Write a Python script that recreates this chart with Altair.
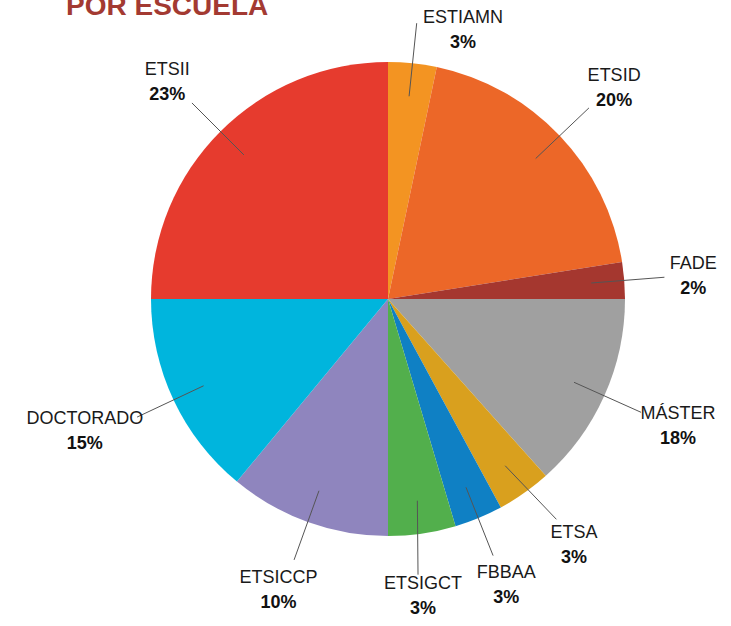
import math
import altair as alt
import pandas as pd

# ---- data ----
names = ["ESTIAMN", "ETSID", "FADE", "MÁSTER", "ETSA", "FBBAA",
         "ETSIGCT", "ETSICCP", "DOCTORADO", "ETSII"]
# slice sizes as drawn (share of the full circle, %)
shares = [3.3, 19.2, 2.5, 13.4, 3.7, 3.3, 4.6, 11.0, 14.0, 25.0]
# percentages printed on the labels
pct_labels = ["3%", "20%", "2%", "18%", "3%", "3%", "3%", "10%", "15%", "23%"]
colors = ["#F39422", "#EC6728", "#A5372F", "#A0A0A0", "#D9A01E",
          "#0F80C4", "#52AF4C", "#8F85BE", "#00B5DD", "#E63B2E"]
title_text = ["POR ESCUELA"]

# ---- layout ----
W, H = 686, 598          # plot area; pie is centred in it
PAD_B = 28
R = 237                  # pie radius (px)
R_IN, R_OUT = 0.86 * R, 1.17 * R
CH = 19                  # half height of a two-line label block
FS = 18

total = sum(shares)
mids, acc = [], 0.0
for s in shares:
    mids.append((acc + s / 2) / total * 2 * math.pi)
    acc += s
widths = [len(n) * 11.5 for n in names]


def block(phi, w):
    ex, ey = R_OUT * math.sin(phi), R_OUT * math.cos(phi)
    bx = ex + math.sin(phi) * (w / 2 + 6)
    by = ey + math.cos(phi) * (CH + 12)
    top_lim = H / 2 - CH - 10
    bot_lim = -(H / 2 + PAD_B) + CH + 12
    if by > top_lim:
        by = top_lim
        bx = ex + math.copysign(w / 2 + 6, math.sin(phi))
    if by < bot_lim:
        by = bot_lim
    return ex, ey, bx, by


# spread label angles apart where label blocks would collide
phis = mids[:]
n = len(names)
for _ in range(800):
    moved = False
    for i in range(n):
        j = (i + 1) % n
        _, _, bxi, byi = block(phis[i], widths[i])
        _, _, bxj, byj = block(phis[j], widths[j])
        if abs(bxi - bxj) < (widths[i] + widths[j]) / 2 + 14 and abs(byi - byj) < 2 * CH + 8:
            phis[i] -= 0.004
            phis[j] += 0.004
            moved = True
    if not moved:
        break

rows = []
for i, nm in enumerate(names):
    ex, ey, bx, by = block(phis[i], widths[i])
    rows.append({
        "idx": i, "name": nm, "share": shares[i], "pct": pct_labels[i],
        "x_in": R_IN * math.sin(mids[i]), "y_in": R_IN * math.cos(mids[i]),
        "x_out": ex, "y_out": ey, "bx": bx, "by": by,
    })
df = pd.DataFrame(rows)

xs = alt.Scale(domain=[-W / 2, W / 2], nice=False, zero=False)
ys = alt.Scale(domain=[-H / 2, H / 2], nice=False, zero=False)

base = alt.Chart(df)

pie = base.mark_arc(radius=R).encode(
    theta=alt.Theta("share:Q", stack=True),
    color=alt.Color("name:N", scale=alt.Scale(domain=names, range=colors), legend=None),
    order=alt.Order("idx:Q"),
)

leaders = base.mark_rule(color="#555555", strokeWidth=1).encode(
    x=alt.X("x_in:Q", scale=xs, axis=None),
    y=alt.Y("y_in:Q", scale=ys, axis=None),
    x2="x_out:Q",
    y2="y_out:Q",
)

name_text = base.mark_text(font="Liberation Sans", fontSize=FS, color="#1a1a1a",
                           align="center", baseline="alphabetic", dy=-6).encode(
    x=alt.X("bx:Q", scale=xs, axis=None),
    y=alt.Y("by:Q", scale=ys, axis=None),
    text="name:N",
)

pct_text = base.mark_text(font="Liberation Sans", fontSize=FS, fontWeight="bold",
                          color="#111111", align="center", baseline="alphabetic",
                          dy=19).encode(
    x=alt.X("bx:Q", scale=xs, axis=None),
    y=alt.Y("by:Q", scale=ys, axis=None),
    text="pct:N",
)

title = alt.Chart(pd.DataFrame({"t": title_text})).mark_text(
    font="Liberation Sans", fontSize=28, fontWeight="bold", color="#A33A32",
    align="left", baseline="alphabetic",
).encode(x=alt.value(21), y=alt.value(15), text="t:N")

chart = alt.layer(pie, leaders, name_text, pct_text, title).properties(
    width=W,
    height=H,
    padding={"left": 45, "right": 0, "top": 0, "bottom": PAD_B},
    autosize=alt.AutoSizeParams(type="none"),
    background="white",
).configure_view(stroke=None)

chart.save("out.html", embed_options={"renderer": "svg", "actions": False})
